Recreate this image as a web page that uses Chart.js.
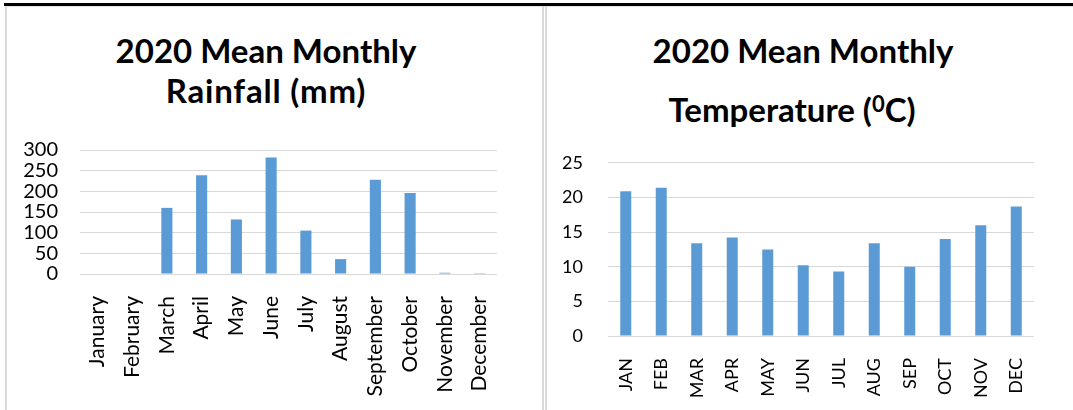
<!DOCTYPE html>
<html>
<head>
<meta charset="utf-8">
<script src="https://cdn.jsdelivr.net/npm/chart.js@4.4.1/dist/chart.umd.min.js"></script>
<style>
  html, body { margin: 0; padding: 0; background: #fff; }
  body { width: 1073px; height: 410px; position: relative; overflow: hidden; font-family: 'Lato', sans-serif; }
  .rule { position: absolute; }
  .title { position: absolute; font-weight: bold; font-size: 33px; line-height: 36px; color: #000; text-align: center; white-space: nowrap; transform: translateX(-50%); }
  .title sup { font-size: 22px; line-height: 0; vertical-align: 0.45em; }
  .panel { position: absolute; }
</style>
</head>
<body>
<div class="rule" style="left:4px;top:3px;width:1069px;height:3px;background:#000"></div>
<div class="rule" style="left:7px;top:6px;width:1066px;height:1px;background:#e3e3e3"></div>
<div class="rule" style="left:5px;top:6px;width:2px;height:404px;background:#d9d9d9"></div>
<div class="rule" style="left:542px;top:6px;width:2px;height:404px;background:#d9d9d9"></div>
<div class="rule" style="left:545px;top:6px;width:2px;height:404px;background:#d9d9d9"></div>

<div class="title" style="left:266px;top:32px">2020 Mean Monthly</div>
<div class="title" style="left:266px;top:72px;letter-spacing:0.8px">Rainfall (mm)</div>
<div class="title" style="left:803px;top:32px">2020 Mean Monthly</div>
<div class="title" style="left:792px;top:91px">Temperature (<sup>0</sup>C)</div>

<div class="panel" style="left:8px;top:116px;width:534px;height:294px"><canvas id="rain"></canvas></div>
<div class="panel" style="left:548px;top:127px;width:525px;height:283px"><canvas id="temp"></canvas></div>

<script>
const rainMonths = ['January', 'February', 'March', 'April', 'May', 'June', 'July', 'August', 'September', 'October', 'November', 'December'];
const rainValues = [0, 0, 160, 239, 132, 282, 105, 36, 228, 196, 3, 2];
const rainTicks  = [0, 50, 100, 150, 200, 250, 300];

const tempMonths = ['JAN', 'FEB', 'MAR', 'APR', 'MAY', 'JUN', 'JUL', 'AUG', 'SEP', 'OCT', 'NOV', 'DEC'];
const tempValues = [20.9, 21.4, 13.4, 14.2, 12.5, 10.2, 9.3, 13.4, 10.0, 14.0, 16.0, 18.7];
const tempTicks  = [0, 5, 10, 15, 20, 25];

const BAR_BLUE  = '#5b9bd5';
const GRID_GRAY = '#d9d9d9';

function barChart(id, labels, values, ticks, opt) {
  const ctx = document.getElementById(id).getContext('2d');
  return new Chart(ctx, {
    type: 'bar',
    data: {
      labels,
      datasets: [{ data: values, backgroundColor: BAR_BLUE, borderWidth: 0, categoryPercentage: 1, barPercentage: opt.barPct }],
    },
    options: {
      responsive: true,
      maintainAspectRatio: false,
      animation: false,
      layout: { padding: { left: 0, right: opt.right, top: 0, bottom: 0 } },
      plugins: { legend: { display: false }, tooltip: { enabled: false } },
      scales: {
        x: {
          grid: { display: false },
          border: { display: false },
          ticks: {
            color: '#000', autoSkip: false, maxRotation: 90, minRotation: 90, padding: opt.xPad,
            font: { family: "'Lato', sans-serif", size: opt.xFont },
          },
          afterFit: s => { s.height = opt.xHeight; },
        },
        y: {
          min: 0,
          max: ticks[ticks.length - 1],
          afterBuildTicks: s => { s.ticks = ticks.map(v => ({ value: v })); },
          grid: { color: GRID_GRAY, lineWidth: 1, drawTicks: false },
          border: { display: false },
          ticks: {
            color: '#000', padding: opt.yPad, autoSkip: false,
            font: { family: "'Lato', sans-serif", size: opt.yFont },
          },
          afterFit: s => { s.width = opt.yWidth; },
        },
      },
    },
  });
}

// y tick padding also pads the top of the plot, so the panels start higher to compensate
barChart('rain', rainMonths, rainValues, rainTicks, {
  barPct: 0.32, right: 45, xHeight: 136, yWidth: 72, xPad: 14, yPad: 22, xFont: 21, yFont: 20,
});
barChart('temp', tempMonths, tempValues, tempTicks, {
  barPct: 0.31, right: 39, xHeight: 74, yWidth: 60, xPad: 14, yPad: 25, xFont: 18, yFont: 18,
});
</script>
</body>
</html>
